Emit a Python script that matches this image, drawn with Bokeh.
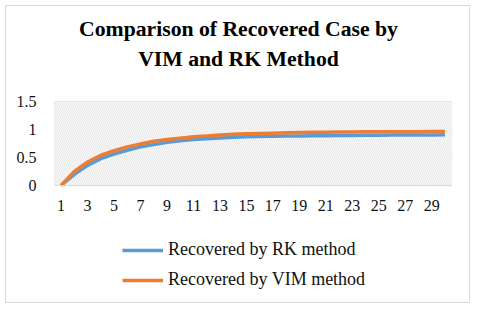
from bokeh.plotting import figure
from bokeh.models import (Legend, LegendItem, FixedTicker, NumeralTickFormatter,
                          Label, BoxAnnotation, ColumnDataSource)
from bokeh.embed import file_html
from bokeh.resources import INLINE

days = list(range(1, 31))
rk_recovered = [0.0, 0.20, 0.36, 0.48, 0.56, 0.63, 0.69, 0.73, 0.77, 0.80,
                0.82, 0.835, 0.85, 0.86, 0.87, 0.875, 0.88, 0.883, 0.886, 0.888,
                0.89, 0.892, 0.894, 0.896, 0.898, 0.90, 0.901, 0.902, 0.903, 0.905]
vim_recovered = [0.0, 0.25, 0.42, 0.54, 0.62, 0.69, 0.74, 0.79, 0.82, 0.845,
                 0.87, 0.885, 0.90, 0.915, 0.925, 0.93, 0.935, 0.94, 0.945, 0.95,
                 0.95, 0.955, 0.955, 0.96, 0.96, 0.96, 0.96, 0.962, 0.963, 0.964]
x_tick_labels = days[::2]
y_ticks = [0, 0.5, 1, 1.5]
title_lines = ["Comparison of Recovered Case by", "VIM and RK Method"]
series_names = ["Recovered by RK method", "Recovered by VIM method"]

FONT = "Liberation Serif"
BLUE = "#5b9bd5"
ORANGE = "#ed7d31"

# ---- layout (pixels) ----
W, H = 465, 298
ML, MR = 48, 20
PLOT_PX = 84          # pixel height of the 0..1.5 value band
ZERO_FROM_BOTTOM = 119
y_top_val = y_ticks[-1]
px_per_unit = PLOT_PX / y_top_val
y_min = -ZERO_FROM_BOTTOM / px_per_unit
y_max = (H - ZERO_FROM_BOTTOM) / px_per_unit

src = ColumnDataSource(dict(day=days, rk=rk_recovered, vim=vim_recovered))

p = figure(width=W, height=H, x_range=(0.5, len(days) + 0.5), y_range=(y_min, y_max),
           output_backend="svg", toolbar_location=None,
           min_border_left=ML, min_border_right=MR, min_border_top=0, min_border_bottom=0)
p.styles = {"border": "1px solid #d9d9d9", "margin": "5px 0 0 5px"}
p.outline_line_color = None
p.background_fill_color = "white"
p.border_fill_color = "white"

# hatched plot-area background
x_lo, x_hi = 0.5, len(days) + 0.5
p.add_layout(BoxAnnotation(left=x_lo, right=x_hi, bottom=0, top=y_top_val,
                           fill_color="#f9f9f9", fill_alpha=1.0, line_color=None,
                           hatch_pattern="/", hatch_color="#e0e0e0", hatch_scale=4,
                           hatch_weight=0.7, level="underlay"))

# grids
p.xgrid.visible = False
p.ygrid.ticker = FixedTicker(ticks=y_ticks)
p.ygrid.grid_line_color = "#d9d9d9"
p.ygrid.level = "underlay"
vticks = [x_lo + i * 0.5 for i in range(2 * len(days) + 1)]
p.segment(x0=vticks, y0=[0] * len(vticks), x1=vticks, y1=[y_top_val] * len(vticks),
          line_color="#d6d6d6", line_width=1, level="underlay")

r1 = p.line("day", "rk", source=src, line_color=BLUE, line_width=3.5)
r2 = p.line("day", "vim", source=src, line_color=ORANGE, line_width=3.5)

# axes
p.xaxis.fixed_location = 0
p.xaxis.ticker = FixedTicker(ticks=x_tick_labels)
p.yaxis.ticker = FixedTicker(ticks=y_ticks)
p.yaxis.formatter = NumeralTickFormatter(format="0.[0]")
for ax in (p.xaxis[0], p.yaxis[0]):
    ax.major_tick_line_color = None
    ax.minor_tick_line_color = None
    ax.major_label_text_font = FONT
    ax.major_label_text_font_size = "16px"
    ax.major_label_text_color = "#111111"
    ax.major_label_standoff = 12
p.yaxis.axis_line_color = None
p.xaxis.axis_line_color = "#d9d9d9"
p.xaxis.major_label_standoff = 8

# title lines
for txt, base in zip(title_lines, [276, 246]):
    p.add_layout(Label(x=184, y=base, x_units="screen", y_units="screen", text=txt,
                       text_font=FONT, text_font_size="21.7px", text_font_style="bold",
                       text_align="center", text_baseline="alphabetic",
                       text_color="black"))

legend = Legend(items=[LegendItem(label=series_names[0], renderers=[r1]),
                       LegendItem(label=series_names[1], renderers=[r2])],
                location=(68, 14), orientation="vertical",
                border_line_color=None, background_fill_alpha=0,
                label_text_font=FONT, label_text_font_size="18px",
                label_text_color="#111111",
                glyph_width=41, glyph_height=20, label_height=20, spacing=9,
                padding=0, margin=0, label_standoff=5)
p.add_layout(legend)

open("out.html", "w").write(file_html(p, INLINE))
